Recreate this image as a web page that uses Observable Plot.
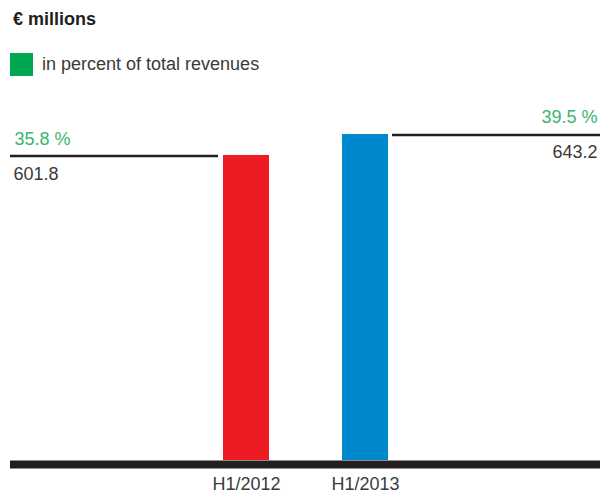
<!DOCTYPE html>
<html>
<head>
<meta charset="utf-8">
<script src="https://cdn.jsdelivr.net/npm/d3@7"></script>
<script src="https://cdn.jsdelivr.net/npm/@observablehq/plot@0.6"></script>
<style>
  html, body { margin: 0; padding: 0; background: #fff; }
  #wrap { position: relative; width: 607px; height: 494px; font-family: "Liberation Sans", Arial, Helvetica, sans-serif; color: #3a3a3a; }
  #title { position: absolute; left: 13px; top: 9px; font-size: 18px; font-weight: bold; color: #231f20; white-space: nowrap; }
  #legend { position: absolute; left: 10px; top: 53px; height: 23px; display: flex; align-items: center; font-size: 18px; white-space: nowrap; }
  #legend .sw { width: 23px; height: 23px; background: #00a651; margin-right: 9px; }
  #chart { position: absolute; left: 0; top: 90px; }
</style>
</head>
<body>
<div id="wrap">
  <div id="title">€ millions</div>
  <div id="legend"><span class="sw"></span><span>in percent of total revenues</span></div>
  <div id="chart"></div>
</div>
<script>
const periods = ["H1/2012", "H1/2013"];
const values = [601.8, 643.2];
const shares = [35.8, 39.5];
const barColors = ["#ed1c24", "#0088cf"];

const data = periods.map((p, i) => ({period: p, value: values[i], share: shares[i]}));
const fmtVal = d => d.value.toFixed(1);
const fmtShare = d => d.share.toFixed(1) + " %";
const textGreen = "#3bb56e";
const dark = "#231f20";

const chart = Plot.plot({
  width: 607,
  height: 404,
  marginLeft: 10,
  marginRight: 7,
  marginTop: 0,
  marginBottom: 34,
  style: {fontFamily: "'Liberation Sans', Arial, Helvetica, sans-serif", color: "#3a3a3a", background: "#fff"},
  x: {domain: periods, range: [148, 462], padding: 0.6167, label: null},
  y: {domain: [0, 730], axis: null},
  color: {domain: periods, range: barColors},
  marks: [
    Plot.barY(data, {x: "period", y: "value", fill: "period"}),
    // baseline
    Plot.ruleY([0], {stroke: dark, strokeWidth: 8, dy: 4}),
    // reference line for H1/2012 (extends left)
    Plot.ruleY([data[0]], {y: "value", stroke: dark, strokeWidth: 2.5, insetRight: 382, dy: 0.5}),
    // reference line for H1/2013 (extends right)
    Plot.ruleY([data[1]], {y: "value", stroke: dark, strokeWidth: 2.5, insetLeft: 382, dy: 0.5}),
    // labels for H1/2012
    Plot.text([data[0]], {y: "value", text: fmtShare, frameAnchor: "left", textAnchor: "start", lineAnchor: "bottom", dx: 4, dy: -10, fill: textGreen, fontSize: 18}),
    Plot.text([data[0]], {y: "value", text: fmtVal, frameAnchor: "left", textAnchor: "start", lineAnchor: "bottom", dx: 3, dy: 25, fill: "#3a3a3a", fontSize: 18}),
    // labels for H1/2013
    Plot.text([data[1]], {y: "value", text: fmtShare, frameAnchor: "right", textAnchor: "end", lineAnchor: "bottom", dx: -3, dy: -11, fill: textGreen, fontSize: 18}),
    Plot.text([data[1]], {y: "value", text: fmtVal, frameAnchor: "right", textAnchor: "end", lineAnchor: "bottom", dx: -3, dy: 24, fill: "#3a3a3a", fontSize: 18}),
    Plot.axisX({tickSize: 0, tickPadding: 17, fontSize: 18, label: null, fill: "#3a3a3a"})
  ]
});
document.getElementById("chart").appendChild(chart);
</script>
</body>
</html>
